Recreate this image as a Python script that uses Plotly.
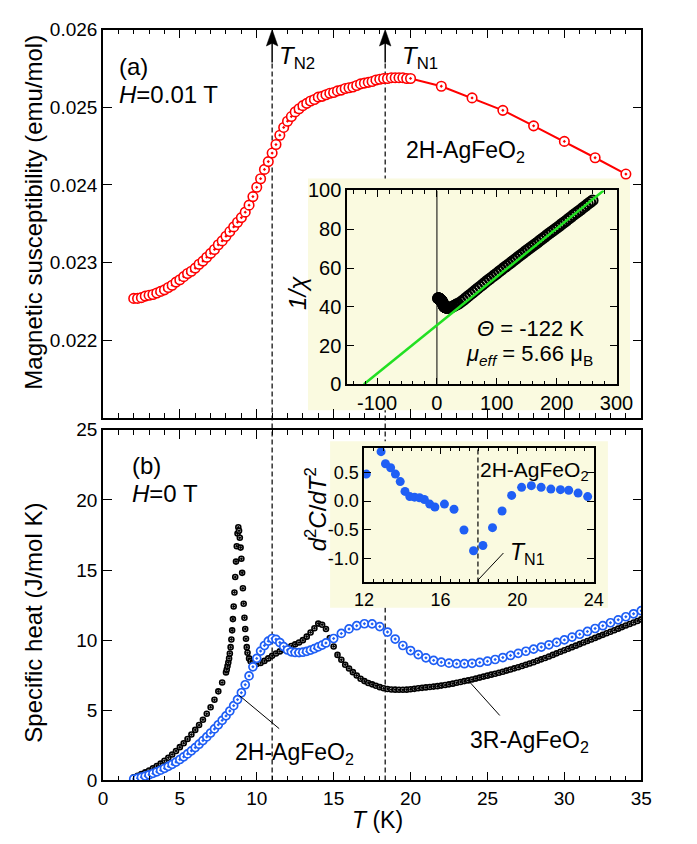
import plotly.graph_objects as go

W, H = 697, 844
FONT = "Liberation Sans, Arial, sans-serif"

def px(x):
    return x / W

def py(y):
    return 1 - y / H

# ---------------- data ----------------
# (a) susceptibility of 2H-AgFeO2, H = 0.01 T
chi_T = [2.00, 2.25, 2.50, 2.75, 3.00, 3.25, 3.50, 3.75, 4.00, 4.25, 4.50, 4.75,
         5.00, 5.25, 5.50, 5.75, 6.00, 6.25, 6.50, 6.75, 7.00, 7.25, 7.50, 7.75,
         8.00, 8.25, 8.50, 8.75, 9.00, 9.25, 9.50, 9.75, 10.00, 10.25, 10.50, 10.75,
         11.00, 11.25, 11.50, 11.75, 12.00, 12.25, 12.50, 12.75, 13.00, 13.25, 13.50, 13.75,
         14.00, 14.25, 14.50, 14.75, 15.00, 15.25, 15.50, 15.75, 16.00, 16.25, 16.50, 16.75,
         17.00, 17.25, 17.50, 17.75, 18.00, 18.25, 18.50, 18.75, 19.00, 19.25, 19.50, 19.75,
         20.00, 22.0, 24.0, 26.0, 28.0, 30.0, 32.0, 34.0]
chi_val = [0.02254, 0.02254, 0.02255, 0.02257, 0.02258, 0.02259, 0.02261, 0.02263, 0.02265, 0.02268, 0.02271, 0.02275,
           0.02278, 0.02282, 0.02286, 0.02289, 0.02293, 0.02298, 0.02302, 0.02307, 0.02312, 0.02317, 0.02323, 0.02328,
           0.02334, 0.02340, 0.02346, 0.02352, 0.02358, 0.02365, 0.02374, 0.02385, 0.02397, 0.02408, 0.02420, 0.02430,
           0.02441, 0.02452, 0.02464, 0.02474, 0.02482, 0.02488, 0.02494, 0.02498, 0.02502, 0.02505, 0.02508, 0.02510,
           0.02513, 0.02514, 0.02516, 0.02518, 0.02519, 0.02521, 0.02522, 0.02524, 0.02525, 0.02526, 0.02528, 0.02530,
           0.02531, 0.02532, 0.02533, 0.02535, 0.02536, 0.02537, 0.02537, 0.02538, 0.02538, 0.02538, 0.02538, 0.02537,
           0.02537, 0.02527, 0.02512, 0.02496, 0.02476, 0.02456, 0.02435, 0.02414]

# inset (a): 1/chi at higher temperature
inv_T_high = [36, 40, 44, 48, 52, 56, 60, 64, 68, 72, 76, 80, 84, 88, 92, 96, 100, 104, 108, 112,
              116, 120, 124, 128, 132, 136, 140, 144, 148, 152, 156, 160, 164, 168, 172, 176, 180,
              184, 188, 192, 196, 200, 204, 208, 212, 216, 220, 224, 228, 232, 236, 240, 244, 248,
              252, 256, 260]
inv_chi_high = [41.6, 42.5, 43.4, 44.4, 45.4, 46.4, 47.4, 48.4, 49.4, 50.4, 51.4, 52.4, 53.4, 54.3,
                55.3, 56.3, 57.2, 58.2, 59.1, 60.1, 61.0, 62.0, 62.9, 63.9, 64.8, 65.8, 66.7, 67.6,
                68.6, 69.5, 70.4, 71.4, 72.3, 73.2, 74.2, 75.1, 76.0, 77.0, 77.9, 78.8, 79.8, 80.7,
                81.6, 82.6, 83.5, 84.4, 85.4, 86.3, 87.3, 88.2, 89.2, 90.1, 91.1, 92.0, 93.0, 93.9, 94.9]
theta_CW = -122.0
mu_eff = 5.66

# (b) specific heat
h2_T = [2.00, 2.25, 2.50, 2.75, 3.00, 3.25, 3.50, 3.75, 4.00, 4.25, 4.50, 4.75,
        5.00, 5.25, 5.50, 5.75, 6.00, 6.25, 6.50, 6.75, 7.00, 7.25, 7.50, 7.75,
        8.00, 8.25, 8.50, 8.75, 9.00, 9.25, 9.50, 9.75, 10.00, 10.25, 10.50, 10.75,
        11.00, 11.25, 11.50, 11.75, 12.00, 12.25, 12.50, 12.75, 13.00, 13.25, 13.50, 13.75,
        14.00, 14.25, 14.50, 15.0, 15.5, 16.0, 16.5, 17.0, 17.5, 18.0, 18.5, 19.0, 19.5,
        20.0, 20.5, 21.0, 21.5, 22.0, 22.5, 23.0, 23.5, 24.0, 24.5, 25.0, 25.5, 26.0, 26.5,
        27.0, 27.5, 28.0, 28.5, 29.0, 29.5, 30.0, 30.5, 31.0, 31.5, 32.0, 32.5, 33.0, 33.5,
        34.0, 34.5, 35.0]
h2_C = [0.10, 0.16, 0.23, 0.31, 0.40, 0.50, 0.61, 0.73, 0.86, 1.00, 1.15, 1.31,
        1.49, 1.68, 1.89, 2.11, 2.34, 2.58, 2.84, 3.10, 3.38, 3.67, 3.97, 4.28,
        4.60, 4.95, 5.33, 5.76, 6.25, 6.82, 7.45, 8.10, 8.70, 9.22, 9.62, 9.93,
        10.12, 10.06, 9.83, 9.54, 9.30, 9.17, 9.12, 9.11, 9.14, 9.20, 9.29, 9.40,
        9.52, 9.65, 9.80, 10.12, 10.48, 10.80, 11.03, 11.17, 11.16, 10.97, 10.58, 10.08, 9.62,
        9.26, 8.97, 8.74, 8.56, 8.43, 8.36, 8.32, 8.32, 8.35, 8.41, 8.50, 8.62, 8.76, 8.91,
        9.06, 9.21, 9.36, 9.51, 9.67, 9.84, 10.02, 10.22, 10.42, 10.62, 10.83, 11.03, 11.24, 11.45,
        11.67, 11.88, 12.10]

r3_T = [2.00, 2.25, 2.50, 2.75, 3.00, 3.25, 3.50, 3.75, 4.00, 4.25, 4.50, 4.75,
        5.00, 5.25, 5.50, 5.75, 6.00, 6.25, 6.50, 6.75, 7.00, 7.25, 7.50, 7.75, 8.00,
        8.05, 8.10, 8.15, 8.20, 8.25, 8.30, 8.35, 8.40, 8.45, 8.50, 8.55, 8.60, 8.65, 8.70,
        8.75, 8.80, 8.85, 8.90, 8.95, 9.00, 9.05, 9.10, 9.15, 9.20, 9.25, 9.30, 9.35, 9.40,
        9.50, 9.60, 9.75, 10.00, 10.25, 10.50, 10.75, 11.00, 11.25, 11.50, 11.75, 12.00,
        12.25, 12.50, 12.75, 13.00, 13.25, 13.50, 13.75, 14.00, 14.25, 14.50, 14.75, 15.00,
        15.25, 15.50, 15.75, 16.00, 16.25, 16.50, 16.75, 17.00, 17.25, 17.50, 17.75, 18.00,
        18.25, 18.50, 18.75, 19.00, 19.25, 19.50, 19.75, 20.00, 20.25, 20.50, 20.75, 21.00,
        21.25, 21.50, 21.75, 22.00, 22.25, 22.50, 22.75, 23.00, 23.25, 23.50, 23.75, 24.00,
        24.25, 24.50, 24.75, 25.00, 25.25, 25.50, 25.75, 26.00, 26.25, 26.50, 26.75, 27.00,
        27.25, 27.50, 27.75, 28.00, 28.25, 28.50, 28.75, 29.00, 29.25, 29.50, 29.75, 30.00,
        30.25, 30.50, 30.75, 31.00, 31.25, 31.50, 31.75, 32.00, 32.25, 32.50, 32.75, 33.00,
        33.25, 33.50, 33.75, 34.00, 34.25, 34.50, 34.75, 35.00]
r3_C = [0.22, 0.33, 0.45, 0.57, 0.71, 0.87, 1.03, 1.20, 1.40, 1.62, 1.85, 2.10,
        2.37, 2.65, 2.95, 3.27, 3.60, 3.95, 4.33, 4.75, 5.22, 5.75, 6.35, 6.98, 7.70,
        7.90, 8.15, 8.40, 8.70, 9.05, 9.50, 10.05, 10.70, 11.50, 12.40, 13.40, 14.50, 15.60, 16.70,
        17.60, 18.05, 17.80, 17.30, 16.60, 15.80, 14.80, 13.70, 12.60, 11.60, 10.80, 10.10, 9.50, 9.10,
        8.70, 8.50, 8.38, 8.30, 8.38, 8.52, 8.70, 8.88, 9.05, 9.20, 9.33, 9.45,
        9.58, 9.70, 9.83, 10.00, 10.25, 10.55, 10.85, 11.18, 11.10, 10.80, 10.15, 9.55,
        8.95, 8.60, 8.25, 7.98, 7.72, 7.48, 7.25, 7.08, 6.95, 6.85, 6.75, 6.65,
        6.57, 6.52, 6.48, 6.47, 6.46, 6.46, 6.47, 6.50, 6.53, 6.57, 6.60, 6.63,
        6.66, 6.69, 6.72, 6.76, 6.80, 6.85, 6.90, 6.96, 7.02, 7.08, 7.13, 7.19,
        7.26, 7.33, 7.40, 7.47, 7.54, 7.61, 7.68, 7.75, 7.83, 7.91, 7.99, 8.07,
        8.16, 8.25, 8.34, 8.43, 8.53, 8.63, 8.73, 8.84, 8.95, 9.06, 9.17, 9.28,
        9.39, 9.50, 9.61, 9.72, 9.83, 9.94, 10.05, 10.16, 10.27, 10.38, 10.49, 10.60,
        10.71, 10.82, 10.93, 11.04, 11.15, 11.26, 11.37, 11.48]

# inset (b): d2C/dT2 of 2H-AgFeO2
d2_T = [12.12, 12.89, 13.12, 13.39, 13.64, 13.89, 14.14, 14.39, 14.64, 14.90, 15.15, 15.43,
        15.70, 16.20, 16.70, 17.22, 17.72, 18.21, 18.71, 19.21, 19.71, 20.23, 20.74, 21.25,
        21.76, 22.26, 22.69, 23.18, 23.68]
d2_val = [0.47, 0.86, 0.65, 0.58, 0.47, 0.34, 0.17, 0.08, 0.07, 0.06, 0.03, -0.05,
          -0.10, -0.05, -0.14, -0.50, -0.86, -0.77, -0.46, -0.17, 0.10, 0.24, 0.27, 0.24,
          0.21, 0.20, 0.19, 0.14, 0.08]

TN2 = 11.0
TN1 = 18.35
TN1_inset = 17.95

# tick labels
main_x_ticks = [0, 5, 10, 15, 20, 25, 30, 35]
chi_ticks = [0.022, 0.023, 0.024, 0.025, 0.026]
chi_ticktext = ["0.022", "0.023", "0.024", "0.025", "0.026"]
c_ticks = [0, 5, 10, 15, 20, 25]
in1_xticks = [-100, 0, 100, 200, 300]
in1_xtext = ["-100", "0", "100", "200", "300"]
in1_yticks = [0, 20, 40, 60, 80, 100]
in2_xticks = [12, 16, 20, 24]
in2_yticks = [-1.0, -0.5, 0.0, 0.5]
in2_ytext = ["-1.0", "-0.5", "0.0", "0.5"]

RED = "#FF0000"
BLUE = "#1F5FF5"
GREEN = "#22E022"
YELLOW = "#FAFAE0"

# ---------------- figure ----------------
fig = go.Figure()

# (a) main
fig.add_trace(go.Scatter(
    x=chi_T, y=chi_val, mode="lines+markers", xaxis="x", yaxis="y",
    line=dict(color=RED, width=2),
    marker=dict(symbol="circle-dot", size=9.5, color="white", line=dict(color=RED, width=1.6)),
    showlegend=False))

# inset (a)
inv_T = chi_T + inv_T_high
inv_val = [1.0 / v for v in chi_val] + inv_chi_high
fig.add_trace(go.Scatter(
    x=inv_T, y=inv_val, mode="markers", xaxis="x3", yaxis="y3",
    marker=dict(symbol="circle-open", size=10, color="black", line=dict(color="black", width=2)),
    showlegend=False))
curie_C = mu_eff ** 2 / 8.0
fit_x = [theta_CW, theta_CW + 100 * curie_C]
fit_y = [(t - theta_CW) / curie_C for t in fit_x]
fig.add_trace(go.Scatter(
    x=fit_x, y=fit_y, mode="lines", xaxis="x3", yaxis="y3",
    line=dict(color=GREEN, width=2.5), showlegend=False))

# (b) main
fig.add_trace(go.Scatter(
    x=r3_T, y=r3_C, mode="markers", xaxis="x2", yaxis="y2",
    marker=dict(symbol="circle-dot", size=5, color="white", line=dict(color="black", width=1.6)),
    showlegend=False))
fig.add_trace(go.Scatter(
    x=h2_T, y=h2_C, mode="markers", xaxis="x2", yaxis="y2",
    marker=dict(symbol="circle-dot", size=8, color="white", line=dict(color=BLUE, width=1.7)),
    showlegend=False))

# inset (b)
fig.add_trace(go.Scatter(
    x=d2_T, y=d2_val, mode="markers", xaxis="x4", yaxis="y4",
    marker=dict(symbol="circle", size=9, color=BLUE, line=dict(width=0)),
    showlegend=False))

# ---------------- axes ----------------
def ax_style(**kw):
    d = dict(showline=True, linecolor="black", linewidth=1.5, mirror="allticks",
             ticks="inside", ticklen=9, tickwidth=1.2, tickcolor="black",
             showgrid=False, zeroline=False,
             tickfont=dict(family=FONT, size=19, color="black"))
    d.update(kw)
    return d

main_xdom = [px(96.7), px(656.7)]
minor_x = dict(ticks="inside", ticklen=5, tickwidth=1, tickcolor="black", dtick=1, showgrid=False)

fig.update_layout(
    width=W, height=H,
    margin=dict(l=0, r=0, t=0, b=0),
    paper_bgcolor="white", plot_bgcolor="rgba(0,0,0,0)",
    showlegend=False,
    xaxis=ax_style(domain=main_xdom, range=[0, 35], tickvals=main_x_ticks, showticklabels=False,
                   anchor="y", minor=minor_x),
    yaxis=ax_style(domain=[py(418), py(19)], range=[0.021, 0.026], tickvals=chi_ticks,
                   ticktext=chi_ticktext, anchor="x"),
    xaxis2=ax_style(domain=main_xdom, range=[0, 35], tickvals=main_x_ticks, anchor="y2",
                    minor=minor_x),
    yaxis2=ax_style(domain=[py(790), py(430)], range=[0, 25], tickvals=c_ticks, anchor="x2"),
    xaxis3=ax_style(domain=[px(350.7), px(631)], range=[-150, 300], tickvals=in1_xticks,
                    ticktext=in1_xtext, anchor="y3", ticklen=7,
                    tickfont=dict(family=FONT, size=20, color="black"),
                    minor=dict(ticks="inside", ticklen=4, tickwidth=1, tickcolor="black",
                               tick0=0, dtick=20, showgrid=False)),
    yaxis3=ax_style(domain=[py(383.3), py(184.3)], range=[0, 100], tickvals=in1_yticks,
                    anchor="x3", ticklen=7,
                    tickfont=dict(family=FONT, size=20, color="black")),
    xaxis4=ax_style(domain=[px(368.3), px(607.3)], range=[12, 24], tickvals=in2_xticks,
                    anchor="y4", ticklen=7,
                    tickfont=dict(family=FONT, size=18, color="black"),
                    minor=dict(ticks="inside", ticklen=4, tickwidth=1, tickcolor="black",
                               tick0=12, dtick=0.5, showgrid=False)),
    yaxis4=ax_style(domain=[py(586.7), py(448.3)], range=[-1.41, 0.93], tickvals=in2_yticks,
                    ticktext=in2_ytext, anchor="x4", ticklen=7,
                    tickfont=dict(family=FONT, size=18, color="black")),
)

# ---------------- shapes ----------------
shapes = []
for tn in (TN2, TN1):
    shapes.append(dict(type="line", xref="x", yref="paper", x0=tn, x1=tn,
                       y0=py(790), y1=py(53), layer="below",
                       line=dict(color="black", width=1.2, dash="5px,3px")))
# inset backgrounds
shapes.append(dict(type="rect", xref="paper", yref="paper", x0=px(310), x1=px(645),
                   y0=py(410), y1=py(172), layer="below", fillcolor=YELLOW, line=dict(width=0)))
shapes.append(dict(type="rect", xref="paper", yref="paper", x0=px(333), x1=px(622),
                   y0=py(612.7), y1=py(441.7), layer="below", fillcolor=YELLOW, line=dict(width=0)))
# arrows for transition temperatures
hw = 6 / 16.0
for tn in (TN2, TN1):
    shapes.append(dict(type="line", xref="x", yref="paper", x0=tn, x1=tn,
                       y0=py(53), y1=py(30), layer="above",
                       line=dict(color="black", width=1.5)))
    shapes.append(dict(type="path", xref="x", yref="paper", layer="above",
                       path=f"M {tn},{py(19)} L {tn - hw},{py(36)} L {tn},{py(33)} L {tn + hw},{py(36)} Z",
                       fillcolor="black", line=dict(color="black", width=0.5)))
# inset (a) zero line
shapes.append(dict(type="line", xref="x3", yref="y3", x0=0, x1=0, y0=0, y1=100,
                   layer="below", line=dict(color="black", width=1)))
# inset (b) TN1 dashed line and leader
shapes.append(dict(type="line", xref="x4", yref="y4", x0=TN1_inset, x1=TN1_inset,
                   y0=-1.41, y1=0.93, layer="below",
                   line=dict(color="black", width=1.2, dash="5px,3px")))
shapes.append(dict(type="line", xref="x4", yref="y4", x0=TN1_inset, x1=19.28,
                   y0=-1.37, y1=-0.90, line=dict(color="black", width=1)))
# leaders in (b)
shapes.append(dict(type="line", xref="x2", yref="y2", x0=8.86, x1=11.46, y0=6.06, y1=3.69,
                   line=dict(color="black", width=1)))
shapes.append(dict(type="line", xref="x2", yref="y2", x0=23.75, x1=25.8, y0=7.13, y1=4.63,
                   line=dict(color="black", width=1)))
fig.update_layout(shapes=shapes)

# ---------------- annotations ----------------
def ann(text, x, y, size, xanchor="left", yanchor="middle", angle=0):
    return dict(text=text, x=px(x), y=py(y), xref="paper", yref="paper",
                xanchor=xanchor, yanchor=yanchor, showarrow=False, textangle=angle,
                font=dict(family=FONT, size=size, color="black"))

annotations = [
    ann("(a)", 111, 57, 24),
    ann("<i>H</i>=0.01 T", 111, 86, 24),
    ann("<i>T</i><sub>N2</sub>", 278, 48, 24),
    ann("<i>T</i><sub>N1</sub>", 406, 48, 24),
    ann("2H-AgFeO<sub>2</sub>", 410, 144, 23),
    ann("<i>Θ</i> = -122 K", 541, 326, 22, xanchor="center"),
    ann("<i>μ</i><sub><i>eff</i></sub> = 5.66 μ<sub>B</sub>", 540, 353, 22, xanchor="center"),
    ann("<i>1/χ</i>", 299, 289, 24, xanchor="center", angle=-90),
    ann("(b)", 125, 467, 24),
    ann("<i>H</i>=0 T", 125, 495, 24),
    ann("2H-AgFeO<sub>2</sub>", 232, 762, 23),
    ann("3R-AgFeO<sub>2</sub>", 476, 750, 23),
    ann("2H-AgFeO<sub>2</sub>", 487, 472, 21),
    ann("<i>T</i><sub>N1</sub>", 518, 557, 23),
    ann("<i>d</i><sup>2</sup><i>C</i>/<i>dT</i><sup>2</sup>", 318, 512, 24, xanchor="center", angle=-90),
    ann("Magnetic susceptibility (emu/mol)", 25, 207, 24, xanchor="center", angle=-90),
    ann("Specific heat (J/mol K)", 25, 628, 24, xanchor="center", angle=-90),
    ann("<i>T</i> (K)", 382, 831, 23, xanchor="center"),
]
fig.update_layout(annotations=annotations)

fig.write_html("out.html")
